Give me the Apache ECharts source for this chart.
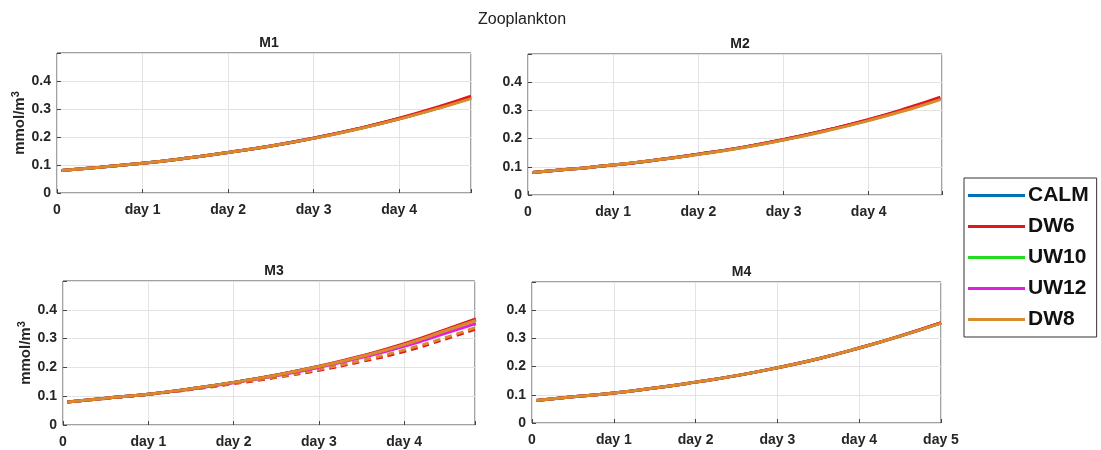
<!DOCTYPE html>
<html>
<head>
<meta charset="utf-8">
<script src="https://cdn.jsdelivr.net/npm/echarts@6/dist/echarts.min.js"></script>
<style>html,body{margin:0;padding:0;background:#fff}#c{width:1101px;height:450px}</style>
</head>
<body>
<div id="c"></div>
<script>
// ---- data ----
const panels = ['M1', 'M2', 'M3', 'M4'];
const seriesNames = ['CALM', 'DW6', 'UW10', 'UW12', 'DW8'];
const tA = [0.05, 0.5, 1, 1.5, 2, 2.5, 3, 3.5, 4, 4.5, 4.84];
const tB = [0.05, 0.5, 1, 1.5, 2, 2.5, 3, 3.5, 4, 4.5, 5];
const yTicks = [0, 0.1, 0.2, 0.3, 0.4];

const m1CALM = [0.080, 0.092, 0.106, 0.124, 0.145, 0.168, 0.196, 0.228, 0.265, 0.308, 0.340];
const m1DW6  = [0.080, 0.092, 0.106, 0.124, 0.145, 0.168, 0.196, 0.229, 0.267, 0.312, 0.346];
const m1UW10 = [0.080, 0.092, 0.106, 0.124, 0.145, 0.168, 0.196, 0.228, 0.265, 0.308, 0.340];
const m1UW12 = [0.080, 0.092, 0.106, 0.124, 0.145, 0.168, 0.196, 0.228, 0.265, 0.308, 0.341];
const m1DW8  = [0.080, 0.092, 0.106, 0.124, 0.145, 0.168, 0.195, 0.227, 0.264, 0.306, 0.337];

const m2CALM = [0.080, 0.092, 0.106, 0.124, 0.145, 0.168, 0.196, 0.229, 0.266, 0.309, 0.342];
const m2DW6  = [0.080, 0.092, 0.106, 0.124, 0.145, 0.168, 0.197, 0.230, 0.268, 0.313, 0.347];
const m2UW10 = [0.080, 0.092, 0.106, 0.124, 0.145, 0.168, 0.196, 0.229, 0.266, 0.309, 0.342];
const m2UW12 = [0.080, 0.092, 0.106, 0.124, 0.145, 0.168, 0.196, 0.229, 0.266, 0.309, 0.342];
const m2DW8  = [0.080, 0.092, 0.106, 0.124, 0.144, 0.167, 0.195, 0.227, 0.264, 0.306, 0.338];

const m3CALM = [0.080, 0.093, 0.107, 0.126, 0.148, 0.173, 0.203, 0.238, 0.280, 0.330, 0.365];
const m3DW6  = [0.080, 0.093, 0.107, 0.126, 0.148, 0.174, 0.204, 0.240, 0.282, 0.333, 0.368];
const m3UW10 = [0.080, 0.093, 0.107, 0.126, 0.148, 0.173, 0.203, 0.238, 0.280, 0.330, 0.365];
const m3UW12 = [0.080, 0.093, 0.107, 0.125, 0.147, 0.171, 0.200, 0.234, 0.273, 0.320, 0.352];
const m3DW8  = [0.080, 0.093, 0.107, 0.126, 0.148, 0.173, 0.203, 0.238, 0.279, 0.329, 0.363];
const m3DW6dash = [0.080, 0.092, 0.106, 0.123, 0.143, 0.165, 0.190, 0.220, 0.255, 0.300, 0.333];
const m3DW8dash = [0.080, 0.092, 0.106, 0.124, 0.145, 0.167, 0.193, 0.224, 0.261, 0.305, 0.339];

const m4CALM = [0.080, 0.093, 0.106, 0.124, 0.145, 0.168, 0.196, 0.228, 0.266, 0.308, 0.355];
const m4DW6  = [0.080, 0.093, 0.106, 0.124, 0.145, 0.168, 0.196, 0.228, 0.266, 0.309, 0.356];
const m4UW10 = [0.080, 0.093, 0.106, 0.124, 0.145, 0.168, 0.196, 0.228, 0.266, 0.308, 0.355];
const m4UW12 = [0.080, 0.093, 0.106, 0.124, 0.145, 0.168, 0.196, 0.228, 0.266, 0.308, 0.355];
const m4DW8  = [0.080, 0.093, 0.106, 0.124, 0.145, 0.168, 0.196, 0.228, 0.266, 0.308, 0.354];

// ---- styling ----
const colors = { CALM: '#0072bd', DW6: '#e3141c', UW10: '#22dd22', UW12: '#e020e0', DW8: '#d98a2b' };
const drawOrder = ['CALM', 'UW10', 'UW12', 'DW6', 'DW8'];
const panelData = [
  { t: tA, xmax: 4.84, d: { CALM: m1CALM, DW6: m1DW6, UW10: m1UW10, UW12: m1UW12, DW8: m1DW8 } },
  { t: tA, xmax: 4.86, d: { CALM: m2CALM, DW6: m2DW6, UW10: m2UW10, UW12: m2UW12, DW8: m2DW8 } },
  { t: tA, xmax: 4.83, d: { CALM: m3CALM, DW6: m3DW6, UW10: m3UW10, UW12: m3UW12, DW8: m3DW8 },
    dashed: [{ c: colors.DW6, v: m3DW6dash }, { c: colors.DW8, v: m3DW8dash }] },
  { t: tB, xmax: 5, d: { CALM: m4CALM, DW6: m4DW6, UW10: m4UW10, UW12: m4UW12, DW8: m4DW8 } }
];
const grids = [
  { left: 57, top: 53, width: 414, height: 140 },
  { left: 528, top: 54, width: 414, height: 141 },
  { left: 63, top: 281, width: 412, height: 144 },
  { left: 532, top: 282, width: 409, height: 141 }
];
const showYName = [true, false, true, false];
const font = 'Liberation Sans, Arial, sans-serif';

const option = {
  animation: false,
  backgroundColor: '#fff',
  title: [
    { text: 'Zooplankton', left: 517, top: 7, textAlign: 'center',
      textStyle: { fontFamily: font, fontSize: 16, fontWeight: 'normal', color: '#222' } }
  ].concat(panels.map((p, i) => ({
    text: p, left: grids[i].left + grids[i].width / 2, top: grids[i].top - 22, textAlign: 'center',
    textStyle: { fontFamily: font, fontSize: 14, fontWeight: 'bold', color: '#222' }
  }))),
  legend: {
    data: seriesNames,
    orient: 'vertical',
    left: 964, top: 178,
    icon: 'rect', itemWidth: 57, itemHeight: 3, itemGap: 10,
    padding: [7, 8, 7, 4],
    borderColor: '#333', borderWidth: 1,
    textStyle: { fontFamily: font, fontSize: 21, fontWeight: 'bold', color: '#111', padding: [0, 0, 0, -2] }
  },
  grid: grids.map(g => Object.assign({ show: true, borderColor: '#444', borderWidth: 1, containLabel: false }, g)),
  xAxis: panelData.map((p, i) => ({
    type: 'value', gridIndex: i, min: 0, max: p.xmax, interval: 1,
    axisLine: { show: false },
    axisTick: { inside: true, length: 4, lineStyle: { color: '#444' } },
    splitLine: { lineStyle: { color: '#e3e3e3' } },
    axisLabel: {
      fontFamily: font, fontSize: 14, fontWeight: 'bold', color: '#262626', margin: 10,
      showMaxLabel: true,
      formatter: v => (Math.abs(v - Math.round(v)) > 1e-6 ? '' : (v === 0 ? '0' : 'day ' + Math.round(v)))
    }
  })),
  yAxis: panelData.map((p, i) => ({
    type: 'value', gridIndex: i, min: 0, max: 0.5, interval: 0.1,
    name: showYName[i] ? 'mmol/m{sup|3}' : '', nameLocation: 'middle', nameGap: 24,
    nameTextStyle: {
      fontFamily: font, fontSize: 15, fontWeight: 'bold', color: '#262626',
      rich: { sup: { fontFamily: font, fontSize: 11, fontWeight: 'bold', color: '#262626', padding: [0, 0, 9, 0] } }
    },
    axisLine: { show: false },
    axisTick: { inside: true, length: 4, lineStyle: { color: '#444' } },
    splitLine: { lineStyle: { color: '#e3e3e3' } },
    axisLabel: {
      fontFamily: font, fontSize: 14, fontWeight: 'bold', color: '#262626', margin: 6,
      formatter: v => (yTicks.some(t => Math.abs(t - v) < 1e-6) ? (v === 0 ? '0' : String(Math.round(v * 10) / 10)) : '')
    }
  })),
  series: []
};

panelData.forEach((p, i) => {
  if (p.dashed) {
    p.dashed.forEach((ds, k) => {
      option.series.push({
        name: 'dashed' + k, type: 'line', xAxisIndex: i, yAxisIndex: i, smooth: true,
        showSymbol: false, symbol: 'none',
        lineStyle: { color: ds.c, width: 2.8, type: [7, 5] },
        data: p.t.map((t, j) => [t, ds.v[j]])
      });
    });
  }
  drawOrder.forEach(n => {
    option.series.push({
      name: n, type: 'line', xAxisIndex: i, yAxisIndex: i, smooth: true,
      showSymbol: false, symbol: 'none', color: colors[n],
      lineStyle: { color: colors[n], width: 3 },
      data: p.t.map((t, j) => [t, p.d[n][j]])
    });
  });
});

const chart = echarts.init(document.getElementById('c'), null, { renderer: 'canvas' });
chart.setOption(option);
</script>
</body>
</html>
